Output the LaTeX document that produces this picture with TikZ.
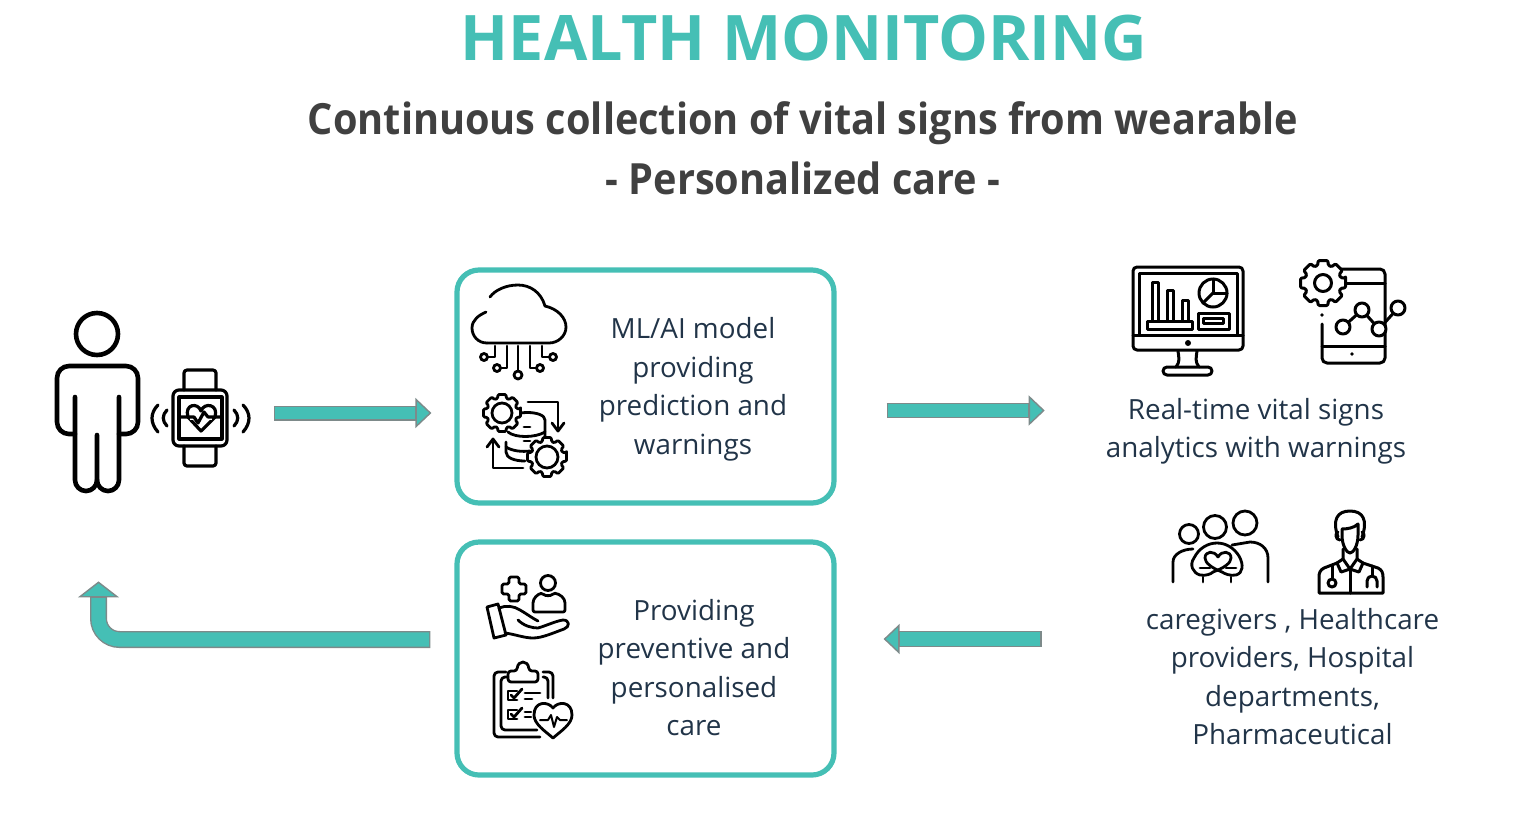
\documentclass[tikz,border=0pt]{standalone}
\usepackage{fontspec}
\usepackage{xcolor}
\setmainfont{Open Sans}
\newfontfamily\subfont[FakeStretch=.923]{Open Sans}
\usetikzlibrary{calc,arrows.meta,positioning}
\definecolor{accent}{RGB}{69,191,181}
\definecolor{flowedge}{RGB}{125,138,138}
\definecolor{headtext}{RGB}{64,64,64}
\definecolor{bodytext}{RGB}{33,52,72}

\tikzset{pics/gear/.style n args={2}{code={
    \draw[icon,fill=white,rounded corners=.6pt] (-12:#1)
      \foreach \a in {0,45,...,315} { -- (\a-12:#1) -- (\a+12:#1) -- (\a+17:#1*.8) -- (\a+28:#1*.8) } -- cycle;
    \draw[icon] (0,0) circle[radius=#2];
}}}

\begin{document}
\begin{tikzpicture}[x=.5pt,y=-.5pt,
     icon/.style={draw=black,line width=1.4pt,line cap=round,line join=round},
     panel/.style={draw=accent,line width=2.6pt,rounded corners=11pt,minimum width=188.5pt,minimum height=116.5pt,inner sep=0pt},
     hook/.style={inner sep=0pt,minimum height=4pt},
     label/.style={align=center,text=bodytext,font=\fontsize{13.9}{19.25}\selectfont},
     flow/.style n args={4}{draw=flowedge,line width=#3,shorten <=#1,shorten >=#2,
       -{Triangle[length=8pt,width=#4,color=flowedge,fill=accent,line width=.7pt]},
       postaction={draw=accent,line width=#3-1.4pt,-,shorten <=#1+.7pt,shorten >=#2+8.4pt}}]
    \useasboundingbox (0,0) rectangle (1515,826);

    \node[font=\bfseries\fontsize{31.4}{36}\selectfont,text=accent] (title) at (804,38) {HEALTH MONITORING};
    \node[font=\subfont\bfseries\fontsize{21.5}{30}\selectfont,text=headtext,align=center] (sub) at (803,148) {Continuous collection of vital signs from wearable\\- Personalized care -};

    \node[panel] (model) at (645.5,386.5) {};
    \node[panel] (care)  at (645.5,658.5) {};
    \node[label] (modeltext) at (693,389.5) {ML/AI model\\providing\\prediction and\\warnings};
    \node[label] (caretext)  at (694,667.5) {Providing\\preventive and\\personalised\\care};
    \node[label] (signs) at (1256,431.5) {Real-time vital signs\\analytics with warnings};
    \node[label] (people) at (1292.5,676.5) {caregivers , Healthcare\\providers, Hospital\\departments,\\Pharmaceutical};
    \node[hook,minimum width=42.5pt,minimum height=92.5pt] (person) at (98.5,402.5) {};
    \node[hook,minimum width=50pt] (watch) at (200.5,413) {};

    \draw[flow={11.5pt}{11.5pt}{7.5pt}{15pt}] (watch.east) -- (watch.east -| model.west);
    \draw[flow={25pt}{27pt}{7.5pt}{15pt}] ([yshift=-12pt]model.east) -- ([yshift=-12pt]model.east -| signs.west);
    \draw[flow={48.5pt}{23.5pt}{8pt}{15pt}] ([yshift=18.75pt]people.west) -- ([yshift=18.75pt]people.west -| care.east);
    \draw[flow={12pt}{43pt}{8.5pt}{20.5pt},rounded corners=10.5pt] ([yshift=9.5pt]care.west) -| (person.south);

    % person and watch
    \begin{scope}[icon/.append style={line width=2.3pt}]
      \draw[icon] (97,334) circle[radius=21];
      \draw[icon,rounded corners=6pt] (75,434) -- (57,434) -- (57,366) -- (138,366) -- (138,434) -- (119,434);
      \draw[icon] (75,397) -- (75,480) arc[start angle=180,end angle=0,radius=11] -- (97,435);
      \draw[icon] (119,397) -- (119,480) arc[start angle=0,end angle=180,radius=11];
    \end{scope}
    \begin{scope}[icon/.append style={line width=1.6pt}]
      \draw[icon,rounded corners=3pt] (173,390) rectangle (227,446);
      \draw[icon] (179,397) rectangle (222,439);
      \draw[icon,rounded corners=1.5pt] (184,390) -- (184,370) -- (216,370) -- (216,390);
      \draw[icon,rounded corners=1.5pt] (184,446) -- (184,466) -- (216,466) -- (216,446);
      \draw[icon] (188,417) .. controls (184,404) and (198,402) .. (201,411) .. controls (204,402) and (219,404) .. (215,417) -- (201,431) -- cycle;
      \fill[white] (190,414) rectangle (212,420);
      \draw[icon] (181,417) -- (194,417) -- (198,423) -- (204,412) -- (208,417) -- (220,417);
      \draw[icon] (158,405) .. controls (150,413) and (150,423) .. (158,432);
      \draw[icon] (167,410) .. controls (162,415) and (162,421) .. (167,426);
      \draw[icon] (243,405) .. controls (251,413) and (251,423) .. (243,432);
      \draw[icon] (234,410) .. controls (239,415) and (239,421) .. (234,426);
    \end{scope}

    % cloud
    \draw[icon] (487,343) .. controls (478,343) and (472,336) .. (472,328) .. controls (472,320) and (479,315) .. (486,312);
    \draw[icon] (490,297) .. controls (495,290) and (506,285) .. (518,285) .. controls (530,285) and (541,292) .. (545,306)
      .. controls (558,309) and (566,318) .. (566,327) .. controls (566,336) and (558,343) .. (549,343) -- (487,343);
    \draw[icon] (518,346) -- (518,371);
    \draw[icon] (495,346) -- (495,357) -- (488,357);
    \draw[icon] (507,346) -- (507,368) -- (501,368);
    \draw[icon] (530,346) -- (530,368) -- (536,368);
    \draw[icon] (542,346) -- (542,357) -- (549,357);
    \draw[icon] (518,375) circle[radius=4];
    \draw[icon] (484,357) circle[radius=3.5];
    \draw[icon] (497,368) circle[radius=3.5];
    \draw[icon] (540,368) circle[radius=3.5];
    \draw[icon] (553,357) circle[radius=3.5];

    % database
    \draw[icon] (528,402) -- (558,402) -- (558,428);
    \draw[icon] (552,423) -- (558,431) -- (564,423);
    \draw[icon] (523,468) -- (493,468) -- (493,442);
    \draw[icon] (487,447) -- (493,439) -- (499,447);
    \draw[icon] (510,420) .. controls (510,410) and (545,410) .. (545,420) -- (545,445);
    \draw[icon] (508,432) .. controls (515,438) and (535,438) .. (545,432);
    \draw[icon] (506,442) -- (506,452) .. controls (506,458) and (515,461) .. (525,461);
    \draw[icon] (506,447) .. controls (512,451) and (522,452) .. (530,451);
    \draw[icon] (524,427) -- (530,427);
    \draw[icon] (524,441) -- (530,441);
    \pic at (502,413) {gear={19}{10}};
    \pic at (547,457) {gear={20}{11}};

    % hand
    \draw[icon,rounded corners=.8pt] (509,584) -- (509,577) -- (519,577) -- (519,584) -- (526,584) -- (526,594) -- (519,594) -- (519,601) -- (509,601) -- (509,594) -- (502,594) -- (502,584) -- cycle;
    \draw[icon] (548,583) circle[radius=7.5];
    \draw[icon,rounded corners=1pt] (533,612) -- (533,605) .. controls (533,598) and (538,594) .. (543,593) .. controls (545,596) and (551,596) .. (553,593) .. controls (560,594) and (565,598) .. (565,605) -- (565,612) -- cycle;
    \draw[icon] (487,607) -- (498,604) -- (506,635) -- (494,638) -- cycle;
    \draw[icon] (499,608) .. controls (506,605) and (514,606) .. (520,610) .. controls (527,614) and (532,618) .. (538,621);
    \draw[icon] (518,620) .. controls (524,626) and (532,628) .. (538,628) .. controls (548,625) and (556,621) .. (563,620) .. controls (570,620) and (570,627) .. (564,629)
      .. controls (553,633) and (542,638) .. (533,638) .. controls (524,638) and (514,634) .. (505,633);

    % clipboard
    \draw[icon,rounded corners=2pt] (506,672) -- (494,672) -- (494,737) -- (540,737);
    \draw[icon,rounded corners=2pt] (508,677) -- (501,677) -- (501,730) -- (537,730);
    \draw[icon,rounded corners=2pt] (543,672) -- (553,672) -- (553,698);
    \draw[icon,rounded corners=2pt] (543,677) -- (548,677) -- (548,698);
    \draw[icon,rounded corners=1.5pt] (508,682) -- (508,671) -- (517,671) .. controls (518,660) and (528,660) .. (529,671) -- (538,671) -- (538,682) -- cycle;
    \draw[icon] (517,691) -- (508,691) -- (508,700) -- (517,700);
    \draw[icon] (511,695) -- (514,698) -- (522,689);
    \draw[icon] (525,693) -- (540,693);
    \draw[icon] (525,699) -- (532,699);
    \draw[icon] (517,710) -- (508,710) -- (508,719) -- (517,719);
    \draw[icon] (511,714) -- (514,717) -- (522,708);
    \draw[icon] (525,712) -- (531,712);
    \draw[icon] (525,717) -- (531,717);
    \draw[icon,fill=white] (553,708) .. controls (548,701) and (534,701) .. (534,715) .. controls (534,724) and (545,731) .. (553,738)
      .. controls (561,731) and (572,724) .. (572,715) .. controls (572,701) and (558,701) .. (553,708) -- cycle;
    \draw[icon,line width=1pt] (540,720) -- (548,720) -- (551,715) -- (554,727) -- (557,717) -- (560,720) -- (567,720);

    % monitor
    \begin{scope}[icon/.append style={line width=1.5pt}]
      \draw[icon,rounded corners=2pt] (1133,267) rectangle (1243,350);
      \draw[icon] (1139,273) rectangle (1237,335);
      \draw[icon] (1133,335) -- (1243,335);
      \fill (1188,343) circle[radius=3];
      \draw[icon] (1178,351) .. controls (1179,358) and (1180,362) .. (1176,367);
      \draw[icon] (1197,351) .. controls (1196,358) and (1195,362) .. (1199,367);
      \draw[icon,rounded corners=2pt] (1163,375) -- (1163,367) -- (1212,367) -- (1212,375) -- cycle;
      \draw[icon] (1152,321) -- (1152,282) -- (1158,282) -- (1158,321);
      \draw[icon] (1167,321) -- (1167,290) -- (1173,290) -- (1173,321);
      \draw[icon] (1182,321) -- (1182,300) -- (1188,300) -- (1188,321);
      \draw[icon] (1147,321) rectangle (1192,329);
      \draw[icon] (1213,293) circle[radius=14];
      \draw[icon] (1213,279) -- (1213,293) -- (1227,293);
      \draw[icon] (1213,293) -- (1203,303);
      \draw[icon] (1198,313) rectangle (1229,329);
      \draw[icon] (1203,318) rectangle (1223,323);
    \end{scope}

    % tablet
    \begin{scope}[icon/.append style={line width=1.5pt}]
      \draw[icon,rounded corners=2.5pt] (1322,324) -- (1322,363) -- (1385,363) -- (1385,269) -- (1330,269);
      \draw[icon] (1340,283) -- (1385,283);
      \draw[icon] (1322,346) -- (1385,346);
      \fill (1352,354) circle[radius=1.8];
      \fill (1322,315) circle[radius=1.8];
      \draw[icon] (1343,327) -- (1362,310) -- (1379,329) -- (1398,308);
      \draw[icon,fill=white] (1343,327) circle[radius=7];
      \draw[icon,fill=white] (1362,310) circle[radius=7];
      \draw[icon,fill=white] (1379,329) circle[radius=7];
      \draw[icon,fill=white] (1398,308) circle[radius=7];
      \pic at (1323,283) {gear={23}{8.5}};
    \end{scope}

    % family
    \draw[icon] (1189,534) circle[radius=9.5];
    \draw[icon] (1215,527) circle[radius=11.5];
    \draw[icon] (1245,523) circle[radius=12];
    \draw[icon] (1173,582) -- (1173,562) .. controls (1173,554) and (1183,549) .. (1193,549);
    \draw[icon] (1232,545) -- (1250,542) .. controls (1260,542) and (1268,548) .. (1268,558) -- (1268,582);
    \draw[icon] (1213,572) .. controls (1211,574) and (1206,576) .. (1200,575) .. controls (1193,573) and (1189,565) .. (1194,558) .. controls (1199,548) and (1208,543) .. (1217,543) .. controls (1226,543) and (1234,548) .. (1239,556) .. controls (1244,565) and (1243,573) .. (1236,575) .. controls (1230,576) and (1225,574) .. (1222,572);
    \draw[icon] (1218,557) .. controls (1214,550) and (1205,551) .. (1205,558) .. controls (1205,563) and (1212,568) .. (1222,572);
    \draw[icon] (1218,557) .. controls (1222,550) and (1231,551) .. (1231,558) .. controls (1231,563) and (1224,568) .. (1213,572);
    \draw[icon] (1200,568) -- (1210,568);
    \draw[icon] (1226,568) -- (1236,568);
    \draw[icon] (1203,577) -- (1203,582);
    \draw[icon] (1231,577) -- (1231,582);

    % doctor
    \begin{scope}[icon/.append style={line width=1.5pt}]
      \draw[icon] (1338,537) .. controls (1332,520) and (1337,511) .. (1350,511) .. controls (1363,511) and (1368,520) .. (1362,537);
      \draw[icon] (1342,529) .. controls (1347,529) and (1354,528) .. (1358,524) -- (1358,535) .. controls (1358,546) and (1353,553) .. (1350,553) .. controls (1347,553) and (1342,546) .. (1342,535) -- cycle;
      \draw[icon] (1338,532) .. controls (1335,532) and (1335,540) .. (1340,540);
      \draw[icon] (1362,532) .. controls (1365,532) and (1365,540) .. (1360,540);
      \draw[icon] (1343,549) -- (1343,559) -- (1350,569) -- (1357,559) -- (1357,549);
      \draw[icon] (1343,559) -- (1337,563) -- (1341,572) -- (1350,569) -- (1359,572) -- (1363,563) -- (1357,559);
      \draw[icon] (1337,563) -- (1324,568) .. controls (1320,570) and (1319,573) .. (1319,577) -- (1319,593) -- (1383,593) -- (1383,577) .. controls (1383,573) and (1382,570) .. (1378,568) -- (1363,563);
      \draw[icon] (1350,570) -- (1350,593);
      \draw[icon] (1332,566) -- (1332,579);
      \draw[icon] (1332,583) circle[radius=4];
      \draw[icon] (1372,566) -- (1372,576);
      \draw[icon] (1367,587) -- (1367,581) arc[start angle=180,end angle=360,radius=5] -- (1377,587);
    \end{scope}
  \end{tikzpicture}
\end{document}
